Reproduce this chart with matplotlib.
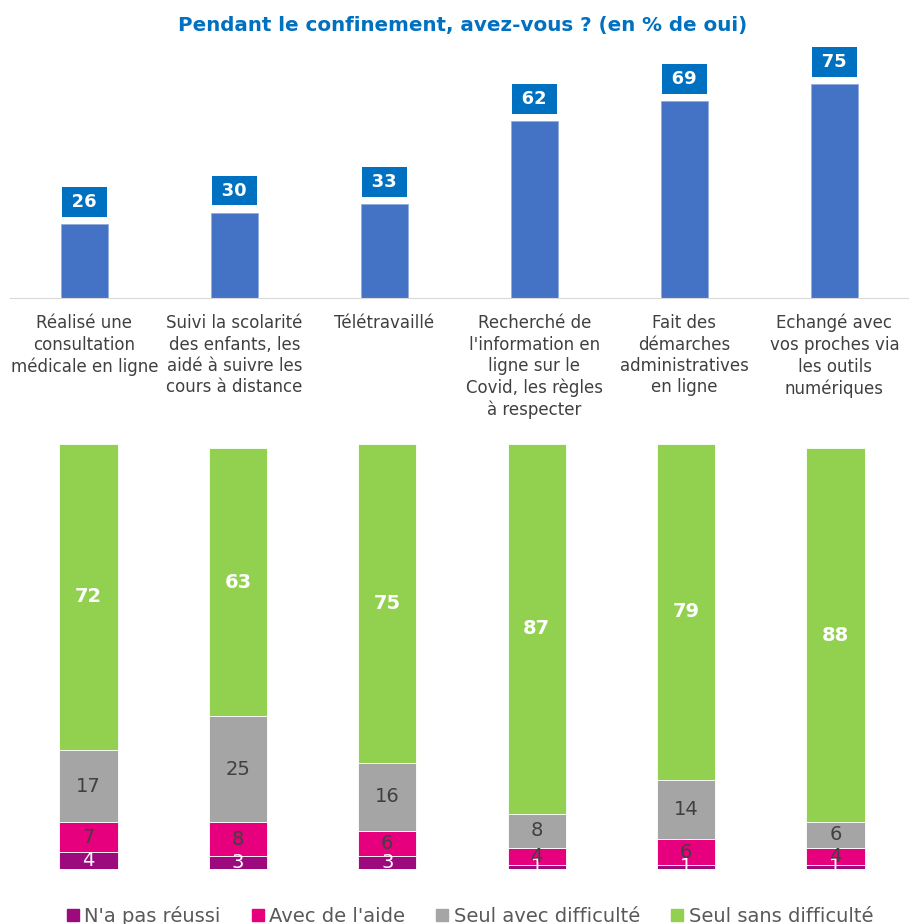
import matplotlib
matplotlib.use("Agg")
import matplotlib.pyplot as plt
from matplotlib.lines import Line2D

# Données
categories = [
    "Réalisé une\nconsultation\nmédicale en ligne",
    "Suivi la scolarité\ndes enfants, les\naidé à suivre les\ncours à distance",
    "Télétravaillé",
    "Recherché de\nl'information en\nligne sur le\nCovid, les règles\nà respecter",
    "Fait des\ndémarches\nadministratives\nen ligne",
    "Echangé avec\nvos proches via\nles outils\nnumériques",
]
oui = [26, 30, 33, 62, 69, 75]

series_names = ["N'a pas réussi", "Avec de l'aide", "Seul avec difficulté", "Seul sans difficulté"]
pas_reussi = [4, 3, 3, 1, 1, 1]
avec_aide = [7, 8, 6, 4, 6, 4]
avec_diff = [17, 25, 16, 8, 14, 6]
sans_diff = [72, 63, 75, 87, 79, 88]

colors = ["#9C0A7D", "#E6007E", "#A5A5A5", "#92D050"]
label_colors = ["white", "#404040", "#404040", "white"]
label_weights = ["normal", "normal", "normal", "bold"]

W, H = 909, 924
fig = plt.figure(figsize=(W / 100, H / 100), dpi=100)

fig.text(463 / W, 1 - 25 / H, "Pendant le confinement, avez-vous ? (en % de oui)",
         ha="center", va="center", fontsize=14.3, fontweight="bold", color="#0070C0")

# Graphique du haut
ax1 = fig.add_axes([9.5 / W, (H - 298) / H, 900 / W, 228 / H])
x = range(len(oui))
ax1.bar(x, oui, width=0.31, color="#4472C4", edgecolor="#8EA9DB", linewidth=0.5)
ax1.set_xlim(-0.5, 5.5)
ax1.set_ylim(0, 80)
for s in ["top", "left", "right"]:
    ax1.spines[s].set_visible(False)
ax1.spines["bottom"].set_color("#D9D9D9")
ax1.set_xticks([])
ax1.set_yticks([])
for i, v in enumerate(oui):
    ax1.annotate(f"\u2009{v}\u2009", (i, v), xytext=(0, 13), textcoords="offset pixels",
                 ha="center", va="bottom", fontsize=13, fontweight="bold", color="white",
                 bbox=dict(boxstyle="square,pad=0.33", fc="#0070C0", ec="none"),
                 annotation_clip=False)
    ax1.annotate(categories[i], (i, 0), xytext=(0, -16), textcoords="offset pixels",
                 ha="center", va="top", multialignment="center", fontsize=12,
                 color="#404040", linespacing=1.25, annotation_clip=False)

# Graphique du bas
ax2 = fig.add_axes([13.8 / W, 55 / H, 896.4 / W, 425 / H])
data = [pas_reussi, avec_aide, avec_diff, sans_diff]
bottom = [0] * len(oui)
for k, vals in enumerate(data):
    ax2.bar(x, vals, bottom=bottom, width=0.39, color=colors[k], edgecolor="white",
            linewidth=0.6)
    for i, v in enumerate(vals):
        ax2.text(i, bottom[i] + v / 2, str(v), ha="center", va="center", fontsize=14,
                 color=label_colors[k], fontweight=label_weights[k], clip_on=True)
    bottom = [b + v for b, v in zip(bottom, vals)]
ax2.set_xlim(-0.5, 5.5)
ax2.set_ylim(0, 100)
ax2.axis("off")

handles = [Line2D([], [], marker="s", linestyle="none", markersize=8, color=c) for c in colors]
leg = fig.legend(handles, series_names, loc="center", bbox_to_anchor=(470 / W, 1 - 916 / H),
                 ncol=4, frameon=False, fontsize=14, handlelength=0.6, handletextpad=0.3,
                 columnspacing=1.6, borderpad=0)
for t in leg.get_texts():
    t.set_color("#595959")

fig.savefig("out.png", dpi=100)
